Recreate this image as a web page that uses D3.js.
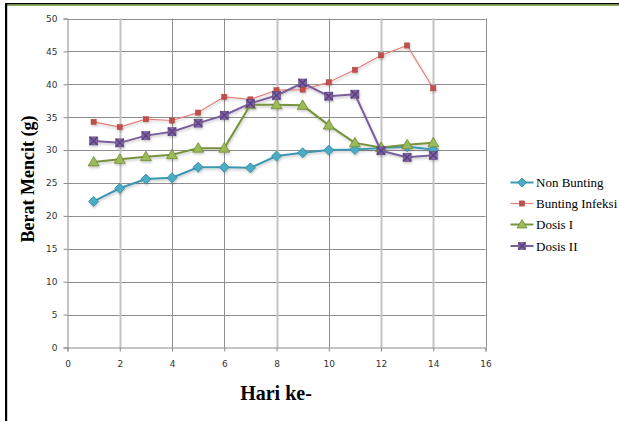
<!DOCTYPE html>
<html>
<head>
<meta charset="utf-8">
<script src="https://cdn.jsdelivr.net/npm/d3@7"></script>
<style>
  html, body { margin: 0; padding: 0; background: #fff; }
  svg { display: block; }
</style>
</head>
<body>
<svg id="chart" width="619" height="421"></svg>
<script>
// Day numbers and mouse weights (g) per group
const days = [1, 2, 3, 4, 5, 6, 7, 8, 9, 10, 11, 12, 13, 14];
const nonBunting     = [22.2, 24.2, 25.6, 25.8, 27.4, 27.4, 27.3, 29.1, 29.6, 30.0, 30.1, 30.3, 30.5, 30.1];
const buntingInfeksi = [34.3, 33.5, 34.7, 34.5, 35.7, 38.1, 37.7, 39.1, 39.2, 40.3, 42.2, 44.4, 45.9, 39.4];
const dosisI         = [28.2, 28.6, 29.0, 29.3, 30.3, 30.3, 36.9, 36.9, 36.8, 33.8, 31.1, 30.4, 30.8, 31.1];
const dosisII        = [31.4, 31.1, 32.2, 32.8, 34.1, 35.3, 37.1, 38.3, 40.2, 38.2, 38.5, 29.9, 28.9, 29.2];
const seriesNames = ["Non Bunting", "Bunting Infeksi", "Dosis I", "Dosis II"];
const xTicks = [0, 2, 4, 6, 8, 10, 12, 14, 16];
const yTicks = [0, 5, 10, 15, 20, 25, 30, 35, 40, 45, 50];

const series = [
  { name: seriesNames[0], values: nonBunting,     line: "#3E97B0", fill: "#4BACC6", stroke: "#31849B", width: 2,   marker: "diamond" },
  { name: seriesNames[1], values: buntingInfeksi, line: "#E0807D", fill: "#C0504D", stroke: "#B0403D", width: 1.2, marker: "square" },
  { name: seriesNames[2], values: dosisI,         line: "#77933C", fill: "#9BBB59", stroke: "#6E8A36", width: 2,   marker: "triangle" },
  { name: seriesNames[3], values: dosisII,        line: "#7A5E9C", fill: "#8064A2", stroke: "#5E4780", width: 2,   marker: "xsquare" }
];

const svg = d3.select("#chart");

// Frame: black rule with a thin green rule beneath along the top, black rule on the left
svg.append("rect").attr("x", 5).attr("y", 3).attr("width", 614).attr("height", 1.6).attr("fill", "#000");
svg.append("rect").attr("x", 5).attr("y", 4.6).attr("width", 614).attr("height", 1.4).attr("fill", "#8DB255");
svg.append("rect").attr("x", 5).attr("y", 3).attr("width", 2.2).attr("height", 418).attr("fill", "#000");

const x = d3.scaleLinear().domain([0, 16]).range([67.5, 485.5]);
const y = d3.scaleLinear().domain([0, 50]).range([347.5, 18.5]);

const defs = svg.append("defs");
const shadow = defs.append("filter").attr("id", "shadow")
  .attr("x", "-10%").attr("y", "-10%").attr("width", "120%").attr("height", "140%");
shadow.append("feDropShadow").attr("dx", 0.8).attr("dy", 1.6).attr("stdDeviation", 1.1)
  .attr("flood-color", "#000").attr("flood-opacity", 0.22);

// Gridlines
const grid = svg.append("g");
const lightV = new Set([2, 8, 12, 14]);
grid.selectAll("line.h").data(yTicks.filter(d => d > 0)).join("line")
  .attr("x1", x(0)).attr("x2", x(16))
  .attr("y1", d => Math.round(y(d)) + 0.5).attr("y2", d => Math.round(y(d)) + 0.5)
  .attr("stroke", "#8E8E8E").attr("stroke-width", 1);
grid.selectAll("line.v").data(xTicks.filter(d => d > 0)).join("line")
  .attr("x1", d => Math.round(x(d)) + 0.5).attr("x2", d => Math.round(x(d)) + 0.5)
  .attr("y1", y(50)).attr("y2", y(0))
  .attr("stroke", d => lightV.has(d) ? "#C4C4C4" : "#8E8E8E")
  .attr("stroke-width", d => lightV.has(d) ? 2 : 1);

// Axes
const yAxis = svg.append("g").attr("transform", `translate(${x(0)},0)`)
  .call(d3.axisLeft(y).tickValues(yTicks).tickSize(4).tickPadding(6));
const xAxis = svg.append("g").attr("transform", `translate(0,${y(0)})`)
  .call(d3.axisBottom(x).tickValues(xTicks).tickSize(4).tickPadding(9));
[yAxis, xAxis].forEach(ax => {
  ax.selectAll("path, line").attr("stroke", "#8A8A8A");
  ax.selectAll("text").attr("font-family", "DejaVu Sans, Verdana, sans-serif")
    .attr("font-size", 9).attr("fill", "#333");
});

// Axis titles
svg.append("text")
  .attr("transform", "translate(34,179) rotate(-90)")
  .attr("text-anchor", "middle")
  .attr("font-family", "Liberation Serif, Times New Roman, serif")
  .attr("font-weight", "bold").attr("font-size", 18).attr("fill", "#000")
  .text("Berat Mencit (g)");
svg.append("text")
  .attr("x", 276).attr("y", 400)
  .attr("text-anchor", "middle")
  .attr("font-family", "Liberation Serif, Times New Roman, serif")
  .attr("font-weight", "bold").attr("font-size", 20).attr("fill", "#000")
  .text("Hari ke-");

// Marker drawing
function drawMarker(g, s, size) {
  const r = size / 2;
  if (s.marker === "diamond") {
    g.append("path").attr("d", `M0,${-r - 1}L${r + 1},0L0,${r + 1}L${-r - 1},0Z`)
      .attr("fill", s.fill).attr("stroke", s.stroke).attr("stroke-width", 0.8);
  } else if (s.marker === "square") {
    const q = 2.6;
    g.append("rect").attr("x", -q).attr("y", -q).attr("width", 2 * q).attr("height", 2 * q)
      .attr("fill", s.fill).attr("stroke", s.stroke).attr("stroke-width", 0.5);
  } else if (s.marker === "triangle") {
    g.append("path").attr("d", `M0,${-r - 1.5}L${r + 1.5},${r}L${-r - 1.5},${r}Z`)
      .attr("fill", s.fill).attr("stroke", s.stroke).attr("stroke-width", 0.8);
  } else if (s.marker === "xsquare") {
    g.append("rect").attr("x", -r).attr("y", -r).attr("width", 2 * r).attr("height", 2 * r)
      .attr("fill", s.fill).attr("stroke", s.stroke).attr("stroke-width", 0.6);
    g.append("path").attr("d", `M${-r},${-r}L${r},${r}M${r},${-r}L${-r},${r}`)
      .attr("stroke", "#5A3F7E").attr("stroke-width", 1.4);
  }
}

// Series lines and markers
const line = d3.line().x((d, i) => x(days[i])).y(d => y(d));
const plot = svg.append("g").attr("filter", "url(#shadow)");
series.forEach(s => {
  const g = plot.append("g");
  g.append("path").datum(s.values).attr("d", line)
    .attr("fill", "none").attr("stroke", s.line).attr("stroke-width", s.width)
    .attr("stroke-linejoin", "round");
  g.selectAll("g.m").data(s.values).join("g")
    .attr("transform", (d, i) => `translate(${x(days[i])},${y(d)})`)
    .each(function () { drawMarker(d3.select(this), s, 8); });
});

// Legend
const legend = svg.append("g");
series.forEach((s, i) => {
  const ly = [182.5, 203.5, 224.5, 246][i];
  const g = legend.append("g").attr("transform", `translate(0,${ly})`);
  g.append("line").attr("x1", 510.5).attr("x2", 533.5).attr("y1", 0).attr("y2", 0)
    .attr("stroke", s.line).attr("stroke-width", s.width);
  const m = g.append("g").attr("transform", "translate(522,0)");
  drawMarker(m, s, 7);
  g.append("text").attr("x", 536).attr("y", 4.5)
    .attr("font-family", "Liberation Serif, Times New Roman, serif")
    .attr("font-size", 13).attr("fill", "#000")
    .text(s.name);
});
</script>
</body>
</html>
